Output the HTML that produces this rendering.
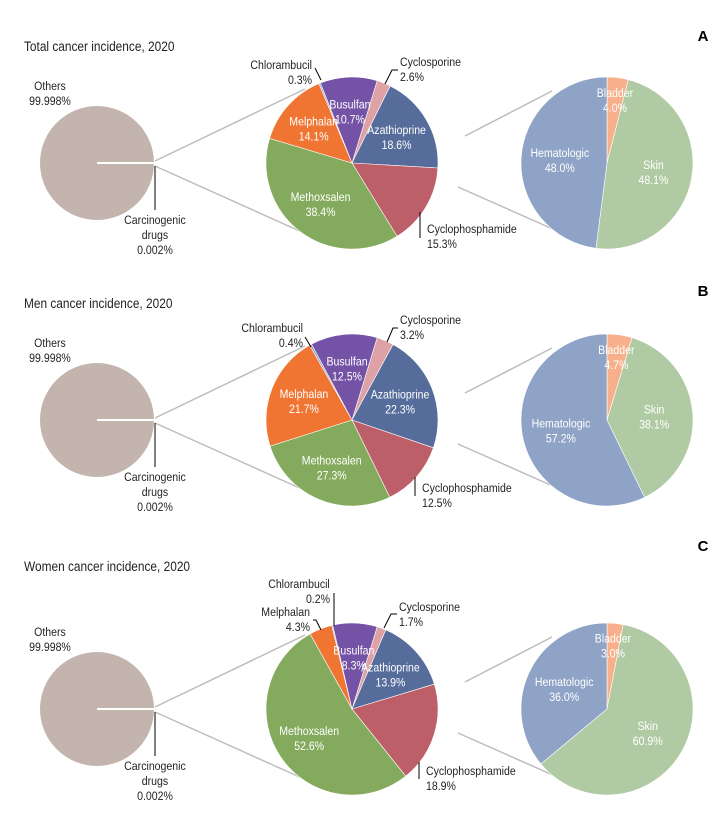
<!DOCTYPE html>
<html><head><meta charset="utf-8"><style>
html,body{margin:0;padding:0;background:#fff}
svg{display:block;font-family:"Liberation Sans Narrow","Liberation Sans",sans-serif}
</style></head><body>
<svg id="chart" width="727" height="825" viewBox="0 0 727 825"></svg>
<script>
const drugNames = ["Cyclosporine","Azathioprine","Cyclophosphamide","Methoxsalen","Melphalan","Chlorambucil","Busulfan"];
const totalDrugValues = [2.6,18.6,15.3,38.4,14.1,0.3,10.7];
const menDrugValues = [3.2,22.3,12.5,27.3,21.7,0.4,12.5];
const womenDrugValues = [1.7,13.9,18.9,52.6,4.3,0.2,8.3];
const siteNames = ["Bladder","Skin","Hematologic"];
const totalSiteValues = [4.0,48.1,48.0];
const menSiteValues = [4.7,38.1,57.2];
const womenSiteValues = [3.0,60.9,36.0];
const panelTitles = ["Total cancer incidence, 2020","Men cancer incidence, 2020","Women cancer incidence, 2020"];
const panelLetters = ["A","B","C"];
const othersShare = ["99.998%","99.998%","99.998%"];
const drugShare = ["0.002%","0.002%","0.002%"];

const drugColors = ["#dea1a6","#566c9b","#bd5f69","#84ab5d","#f07533","#8fa3c8","#7452a5"];
const siteColors = ["#f7b08b","#b0cba3","#8ea3c6"];
const NS = "http://www.w3.org/2000/svg";
const svg = document.getElementById("chart");
const TXT = "#231f20";
const SQ = 0.88;

function mk(tag, attrs, parent){
  const e = document.createElementNS(NS, tag);
  for (const k in attrs) e.setAttribute(k, attrs[k]);
  (parent||svg).appendChild(e);
  return e;
}
function pt(cx,cy,r,deg){const a=deg*Math.PI/180;return [cx+r*Math.sin(a),cy-r*Math.cos(a)];}
function arcPath(cx,cy,r,a0,a1){
  const p0=pt(cx,cy,r,a0),p1=pt(cx,cy,r,a1);
  const large=(a1-a0)>180?1:0;
  return `M${cx},${cy}L${p0[0]},${p0[1]}A${r},${r} 0 ${large} 1 ${p1[0]},${p1[1]}Z`;
}
function squeeze(t,x){ t.setAttribute("transform",`translate(${x},0) scale(${SQ},1) translate(${-x},0)`); }
function text2(g,x,y,l1,l2,anchor,color,size){
  const t=mk("text",{x:x,y:y,"text-anchor":anchor,fill:color,"font-size":size||12},g);
  const s1=mk("tspan",{x:x,dy:0},t); s1.textContent=l1;
  if(l2!==undefined){const s2=mk("tspan",{x:x,dy:15},t); s2.textContent=l2;}
  squeeze(t,x);
  return t;
}
const fmt = v => v.toFixed(1)+"%";

const panels = [
  {cy:163, ty:51, ly:41, drugs:totalDrugValues, sites:totalSiteValues,
   ext:{Cyclosporine:{x:400,y:66,tx:"left",lead:[[385,84],[392,70],[398,70]]},
        Chlorambucil:{x:312,y:69,tx:"right",lead:[[315,68],[321,80]]},
        Cyclophosphamide:{x:427,y:233,tx:"left",lead:[[420,212],[420,238]]}}},
  {cy:420, ty:308, ly:296, drugs:menDrugValues, sites:menSiteValues,
   ext:{Cyclosporine:{x:400,y:324,tx:"left",lead:[[387,342],[393,328],[398,328]]},
        Chlorambucil:{x:303,y:332,tx:"right",lead:[[305,337],[311,347]]},
        Cyclophosphamide:{x:422,y:492,tx:"left",lead:[[415,477],[415,496]]}}},
  {cy:709, ty:571, ly:551, drugs:womenDrugValues, sites:womenSiteValues,
   ext:{Cyclosporine:{x:399,y:611,tx:"left",lead:[[384,628],[391,614],[397,614]]},
        Chlorambucil:{x:330,y:588,tx:"right",lead:[[334,593],[334,626]],center:299},
        Melphalan:{x:310,y:616,tx:"right",lead:[[313,620],[316,620],[321,630]]},
        Cyclophosphamide:{x:426,y:775,tx:"left",lead:[[419,762],[419,779]]}}}
];
const START = 17;

panels.forEach((P,pi)=>{
  const g = mk("g",{});
  
  
  const cy=P.cy;
  const title = mk("text",{x:24,y:P.ty,fill:TXT,"font-size":13.5},g);
  title.textContent = panelTitles[pi];
  squeeze(title,24);
  
  
  const letter = mk("text",{x:703,y:P.ly,fill:"#000","font-size":15,"font-weight":"bold","text-anchor":"middle"},g);
  letter.textContent = panelLetters[pi];
  
  

  const c1=mk("line",{x1:155,y1:cy-2,x2:305,y2:cy-74,stroke:"#bdbdbd","stroke-width":1.5},g);
   
  const c2=mk("line",{x1:155,y1:cy+3,x2:304,y2:cy+70,stroke:"#bdbdbd","stroke-width":1.5},g);
   
  const c3=mk("line",{x1:465,y1:cy-27,x2:552,y2:cy-72,stroke:"#bdbdbd","stroke-width":1.5},g);
   
  const c4=mk("line",{x1:458,y1:cy+24,x2:555,y2:cy+67,stroke:"#bdbdbd","stroke-width":1.5},g);
   

  const sp = mk("circle",{cx:97,cy:cy,r:57,fill:"#c3b5ad"},g);
  
  
  const wl = mk("line",{x1:97,y1:cy,x2:155,y2:cy,stroke:"#fff","stroke-width":2},g);
   
  const vl = mk("line",{x1:155,y1:cy+3,x2:155,y2:cy+47,stroke:"#000","stroke-width":1},g);
   
  const ol = text2(g,50,cy-73,"Others",othersShare[pi],"middle",TXT);
   
  const cl = text2(g,155,cy+61,"Carcinogenic","drugs","middle",TXT);
   
  const cl2 = text2(g,155,cy+91,drugShare[pi],undefined,"middle",TXT);
   

  const slices = mk("g",{},g);
  
  
  const labels = mk("g",{},g);
  
  

  const total = P.drugs.reduce((a,b)=>a+b,0);
  let a = START;
  const R = 86, CX = 352;
  P.drugs.forEach((v,i)=>{
    const sweep = v/total*360;
    const path = mk("path",{d:arcPath(CX,cy,R,a,a+sweep),fill:drugColors[i],stroke:"#fff","stroke-width":0.6},slices);
    
    
    const mid = a+sweep/2;
    const ex = P.ext[drugNames[i]];
    if (ex){
      const anchor = ex.tx==="left"?"start":"end";
      let t;
      if (ex.center!==undefined) t = text2(labels, ex.center, ex.y, drugNames[i], undefined, "middle", TXT);
      else t = text2(labels, ex.x, ex.y, drugNames[i], undefined, anchor, TXT);
      const t2 = text2(labels, ex.x, ex.y+15, fmt(v), undefined, anchor, TXT);
      
      
      
      
      const pl = mk("polyline",{points:ex.lead.map(p=>p.join(",")).join(" "),fill:"none",stroke:"#000","stroke-width":1},labels);
      
      
    } else {
      const p = pt(CX,cy,R*0.6,mid);
      const t = text2(labels,p[0],p[1]-3,drugNames[i],fmt(v),"middle","#fff");
      
      
    }
    a += sweep;
  });

  const st = P.sites.reduce((x,y)=>x+y,0);
  let b = 0;
  const SX = 607, SR = 86;
  P.sites.forEach((v,i)=>{
    const sweep = v/st*360;
    const path = mk("path",{d:arcPath(SX,cy,SR,b,b+sweep),fill:siteColors[i],stroke:"#fff","stroke-width":0.6},slices);
    
    
    const mid = b+sweep/2;
    const p = pt(SX,cy,SR*(i===0?0.74:0.55),mid);
    const t = text2(labels,p[0],p[1]-3,siteNames[i],fmt(v),"middle","#fff");
    
    
    b += sweep;
  });
});
</script>
</body></html>
